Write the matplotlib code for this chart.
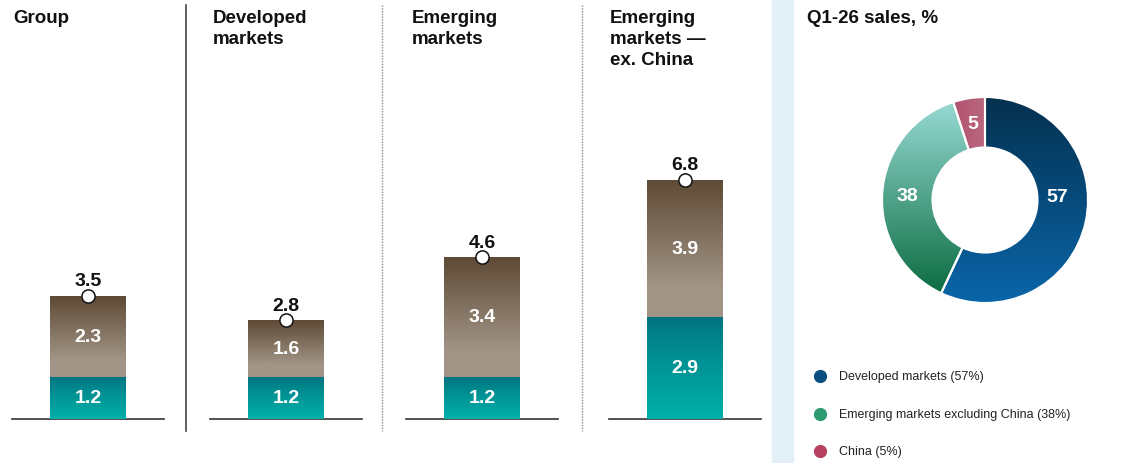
import matplotlib.pyplot as plt
import matplotlib.lines as mlines
import matplotlib.patches as mpatches
import numpy as np

plt.rcParams['font.family'] = ['Liberation Sans', 'DejaVu Sans']

# bar panels: base + growth = total
panel_titles = ['Group', 'Developed\nmarkets', 'Emerging\nmarkets', 'Emerging\nmarkets —\nex. China']
base_vals = [1.2, 1.2, 1.2, 2.9]
growth_vals = [2.3, 1.6, 3.4, 3.9]
total_vals = [3.5, 2.8, 4.6, 6.8]

# donut: Q1-26 sales split
share_names = ['Developed markets', 'Emerging markets excluding China', 'China']
share_vals = [57, 38, 5]

W, H = 1136, 464


def fx(px):
    return px / W


def fy(py):
    return 1 - py / H


def lerp(c0, c1, t):
    c0 = np.array(plt.matplotlib.colors.to_rgb(c0))
    c1 = np.array(plt.matplotlib.colors.to_rgb(c1))
    return c0 + (c1 - c0) * np.clip(t, 0, 1)[..., None]


def fill_gradient(ax, patch, img, extent, z):
    im = ax.imshow(img, extent=extent, aspect='auto', origin='upper', zorder=z, interpolation='bilinear')
    im.set_clip_path(patch)


fig = plt.figure(figsize=(W / 100, H / 100), dpi=100)

# pale strip separating the donut panel
fig.add_artist(mpatches.Rectangle((fx(772), 0), fx(793) - fx(772), 1, transform=fig.transFigure,
                                  color='#E4F0F8', zorder=0))

# separators between bar panels
fig.add_artist(mlines.Line2D([fx(186)] * 2, [fy(6), fy(432)], transform=fig.transFigure, color='#444444', lw=1.2))
for sx in [382, 582]:
    fig.add_artist(mlines.Line2D([fx(sx)] * 2, [fy(6), fy(432)], transform=fig.transFigure,
                                 color='#8a8a8a', lw=1, ls=(0, (1, 1))))

t = np.linspace(0, 1, 200)
teal_grad = lerp('#00717E', '#00B0A9', t ** 0.8)[:, None, :]
brown_grad = lerp('#5E4A35', '#A19486', t / 0.78)[:, None, :]

panel_left = [12, 210, 406, 609]
title_x = [13, 213, 412, 610]
for i in range(4):
    ax = fig.add_axes([fx(panel_left[i]), fy(420), 152 / W, 352 / H])
    b1 = ax.bar(0, base_vals[i], width=1.0, color='#009C9A', zorder=2)[0]
    b2 = ax.bar(0, growth_vals[i], bottom=base_vals[i], width=1.0, color='#857868', zorder=2)[0]
    for p, g in [(b1, teal_grad), (b2, brown_grad)]:
        x0, y0 = p.get_x(), p.get_y()
        fill_gradient(ax, p, g, [x0, x0 + p.get_width(), y0, y0 + p.get_height()], 3)

    ax.text(0, base_vals[i] / 2, f'{base_vals[i]}', ha='center', va='center', color='white',
            fontsize=14, fontweight='bold', zorder=5)
    ax.text(0, base_vals[i] + growth_vals[i] / 2, f'{growth_vals[i]}', ha='center', va='center',
            color='white', fontsize=14, fontweight='bold', zorder=5)
    ax.plot(0, total_vals[i], 'o', ms=9.5, mfc='white', mec='#111111', mew=1.1, zorder=6, clip_on=False)
    ax.annotate(f'{total_vals[i]}', (0, total_vals[i]), xytext=(0, 7.5), textcoords='offset points',
                ha='center', va='baseline', fontsize=14, fontweight='bold', color='#111111', zorder=6)

    ax.set_xlim(-1, 1)
    ax.set_ylim(0, 10)
    for s in ['top', 'right', 'left']:
        ax.spines[s].set_visible(False)
    ax.spines['bottom'].set_color('#333333')
    ax.spines['bottom'].set_linewidth(1.2)
    ax.set_xticks([])
    ax.set_yticks([])
    ax.patch.set_alpha(0)

    fig.text(fx(title_x[i]), fy(10), panel_titles[i], ha='left', va='top', fontsize=13.5,
             fontweight='bold', color='#111111', linespacing=1.32)

# donut
fig.text(fx(807), fy(10), 'Q1-26 sales, %', ha='left', va='top', fontsize=13.5, fontweight='bold', color='#111111')

cx, cy, r = 985, 201, 103
half = 120
dax = fig.add_axes([fx(cx - half), fy(cy + half), 2 * half / W, 2 * half / H])
wedges, _ = dax.pie(share_vals, startangle=90, counterclock=False, radius=1,
                    colors=['#0A4F80', '#2E9A70', '#B5405F'],
                    wedgeprops=dict(width=0.49, edgecolor='white', linewidth=1.5))

tv = np.linspace(0, 1, 200)
grads = [
    lerp('#04304E', '#0A66AA', tv)[:, None, :],
    lerp('#9ADCD7', '#05673A', tv)[:, None, :],
    lerp('#A8244C', '#C9AAB1', tv)[None, :, :],
]
for w, g in zip(wedges, grads):
    w.set_zorder(2)
    fill_gradient(dax, w, g, [-1, 1, -1, 1], 3)
    w2 = mpatches.Wedge(w.center, w.r, w.theta1, w.theta2, width=w.width, facecolor='none',
                        edgecolor='white', linewidth=1.5, zorder=4)
    dax.add_patch(w2)

label_angles = [3, 177, 99]
label_r = [0.70, 0.75, 0.75]
for v, a, rr in zip(share_vals, label_angles, label_r):
    dax.text(rr * np.cos(np.radians(a)), rr * np.sin(np.radians(a)), f'{v}', ha='center', va='center',
             color='white', fontsize=14, fontweight='bold', zorder=5)
dax.set_xlim(-half / r, half / r)
dax.set_ylim(-half / r, half / r)
dax.set_aspect('equal')
dax.axis('off')

# legend
legend_cols = ['#0A4F80', '#2E9A70', '#B5405F']
leg_y = [377, 415, 452]
for name, v, c, ly in zip(share_names, share_vals, legend_cols, leg_y):
    fig.add_artist(mlines.Line2D([fx(820)], [fy(ly)], transform=fig.transFigure, marker='o', ms=8.5,
                                 color=c, ls=''))
    fig.text(fx(839), fy(ly), f'{name} ({v}%)', ha='left', va='center', fontsize=9, color='#222222')

fig.savefig('out.png', dpi=100)
